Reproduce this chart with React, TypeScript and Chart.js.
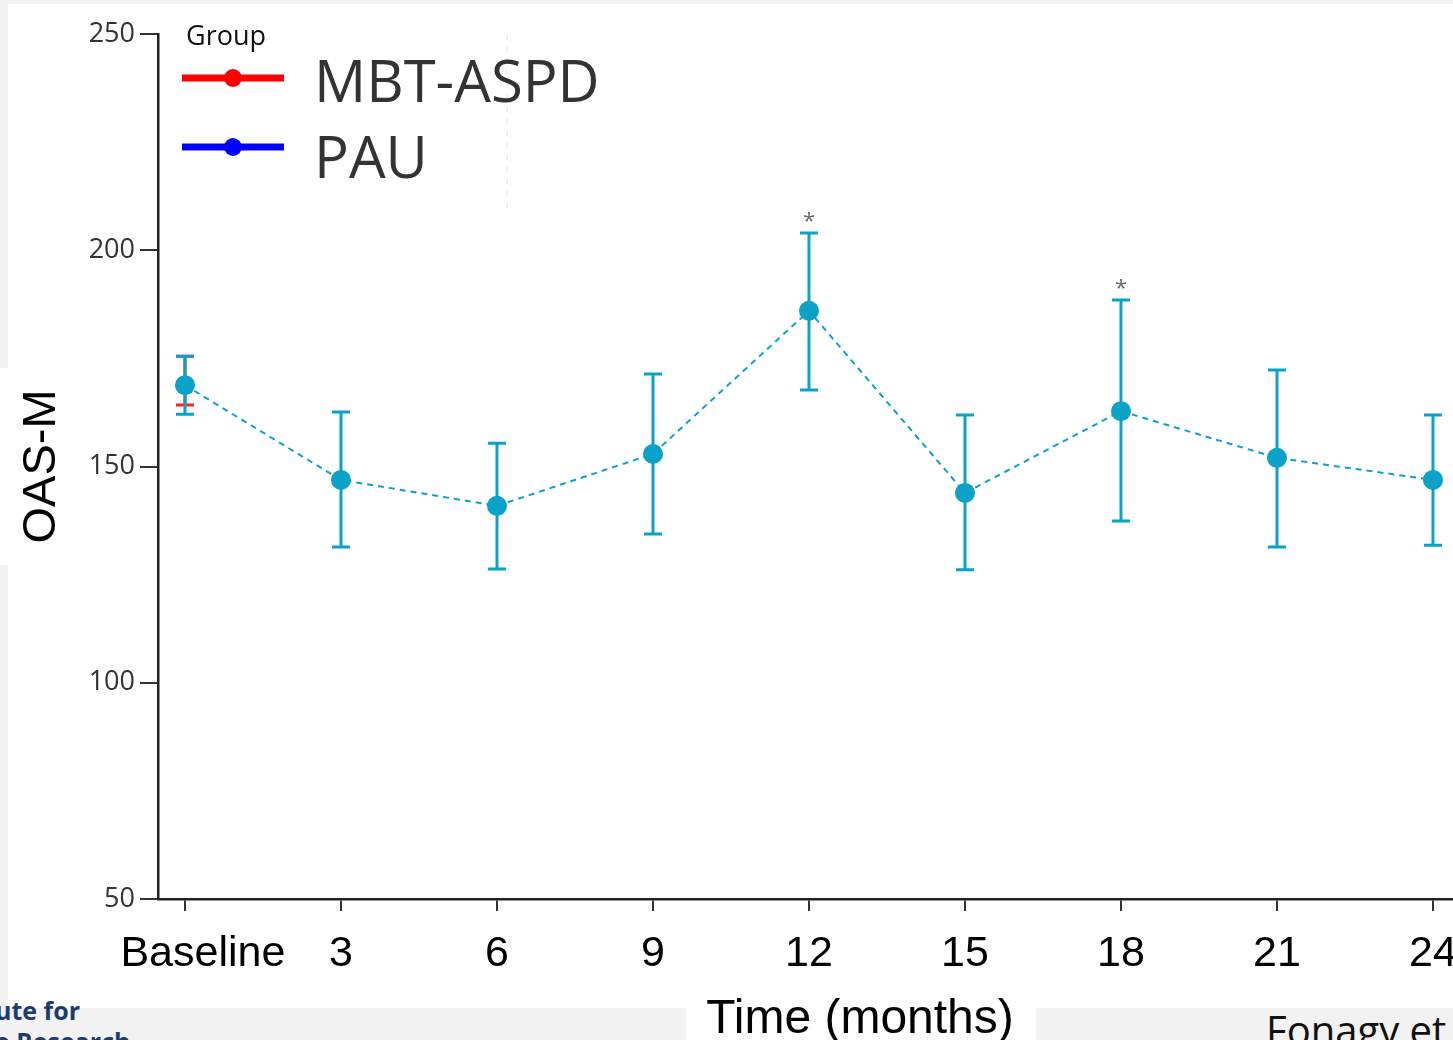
import React, { useEffect, useRef } from "react";
import { Chart, registerables } from "chart.js";

Chart.register(...registerables);

// ---- data ----
const months = [0, 3, 6, 9, 12, 15, 18, 21, 24];
const tickLabels = ["   Baseline", "3", "6", "9", "12", "15", "18", "21", "24"];
const pauMean = [168.8, 146.9, 140.9, 152.9, 186.0, 143.9, 162.8, 152.0, 146.9];
const pauUpper = [175.5, 162.6, 155.4, 171.4, 204.0, 161.9, 188.5, 172.3, 161.9];
const pauLower = [162.1, 131.4, 126.3, 134.4, 167.7, 126.1, 137.4, 131.4, 131.8];
const mbtMonths = [0];
const mbtMean = [168.8];
const mbtUpper = [175.5];
const mbtLower = [164.2];
const significant = [false, false, false, false, true, false, true, false, false];
const yTicks = [50, 100, 150, 200, 250];
const legendNames = ["MBT-ASPD", "PAU"];
const legendColors = ["#ff0000", "#0000ff"];
const xTitle = "Time (months)";

const TEAL = "#0aa2c8";
const RED = "#ff2020";

const errorBarPlugin = {
  id: "errorBars",
  beforeDatasetsDraw(chart: any) {
    const { ctx, scales } = chart;
    const xs = scales.x;
    const ys = scales.y;
    const drawBars = (mx: number[], lo: number[], hi: number[], color: string) => {
      ctx.save();
      ctx.strokeStyle = color;
      ctx.lineWidth = 3;
      mx.forEach((m, i) => {
        const px = xs.getPixelForValue(m);
        const pl = ys.getPixelForValue(lo[i]);
        const ph = ys.getPixelForValue(hi[i]);
        ctx.beginPath();
        ctx.moveTo(px, pl);
        ctx.lineTo(px, ph);
        ctx.moveTo(px - 9, pl);
        ctx.lineTo(px + 9, pl);
        ctx.moveTo(px - 9, ph);
        ctx.lineTo(px + 9, ph);
        ctx.stroke();
      });
      ctx.restore();
    };
    drawBars(mbtMonths, mbtLower, mbtUpper, RED);
    drawBars(months, pauLower, pauUpper, TEAL);
  },
  afterDatasetsDraw(chart: any) {
    const { ctx, scales } = chart;
    ctx.save();
    ctx.fillStyle = "#666";
    ctx.font = "22px 'Open Sans'";
    ctx.textAlign = "center";
    ctx.textBaseline = "alphabetic";
    months.forEach((m, i) => {
      if (!significant[i]) return;
      const px = scales.x.getPixelForValue(m);
      const ph = scales.y.getPixelForValue(pauUpper[i]);
      ctx.fillText("*", px, ph - 5);
    });
    ctx.restore();
  },
  afterDraw(chart: any) {
    const { ctx, chartArea } = chart;
    ctx.save();
    // faint dashed guide
    ctx.strokeStyle = "#e4e4e4";
    ctx.lineWidth = 1;
    ctx.setLineDash([6, 6]);
    ctx.beginPath();
    ctx.moveTo(507, 34);
    ctx.lineTo(507, 210);
    ctx.stroke();
    ctx.setLineDash([]);
    // legend
    ctx.fillStyle = "#111";
    ctx.font = "500 27px 'Open Sans'";
    ctx.textAlign = "left";
    ctx.textBaseline = "alphabetic";
    ctx.fillText("Group", 186, 45);
    const rows = [78, 147];
    const baselines = [102, 178];
    legendNames.forEach((name, i) => {
      ctx.strokeStyle = legendColors[i];
      ctx.lineWidth = 7;
      ctx.beginPath();
      ctx.moveTo(182, rows[i]);
      ctx.lineTo(284, rows[i]);
      ctx.stroke();
      ctx.fillStyle = legendColors[i];
      ctx.beginPath();
      ctx.arc(233, rows[i], 9, 0, Math.PI * 2);
      ctx.fill();
      ctx.fillStyle = "#333";
      ctx.font = "58px 'Open Sans'";
      ctx.fillText(name, 314, baselines[i]);
    });
    // x axis title (slide caption, offset right of the axis centre)
    ctx.fillStyle = "#000";
    ctx.font = "48px Arial, 'Liberation Sans'";
    ctx.textAlign = "center";
    ctx.fillText(xTitle, chartArea.left + 702, 1033);
    ctx.restore();
  },
};

export default function App() {
  const ref = useRef<HTMLCanvasElement | null>(null);

  useEffect(() => {
    if (!ref.current) return;
    const chart = new Chart(ref.current, {
      type: "line",
      data: {
        datasets: [
          {
            label: "PAU",
            data: months.map((m, i) => ({ x: m, y: pauMean[i] })),
            borderColor: TEAL,
            backgroundColor: TEAL,
            borderWidth: 2,
            borderDash: [6, 5],
            pointRadius: 10,
            pointBackgroundColor: TEAL,
            pointBorderWidth: 0,
            tension: 0,
          },
          {
            label: "MBT-ASPD",
            data: mbtMonths.map((m, i) => ({ x: m, y: mbtMean[i] })),
            borderColor: RED,
            backgroundColor: RED,
            pointRadius: 9,
            pointBorderWidth: 0,
            showLine: false,
          },
        ],
      },
      options: {
        responsive: false,
        animation: false,
        layout: { autoPadding: false, padding: { top: 34, right: 0, left: 0, bottom: 0 } },
        plugins: {
          legend: { display: false },
          tooltip: { enabled: false },
        },
        scales: {
          x: {
            type: "linear",
            min: -0.519,
            max: 24.385,
            afterBuildTicks: (scale: any) => {
              scale.ticks = months.map((v) => ({ value: v }));
            },
            afterFit: (scale: any) => {
              scale.height = 141;
              scale.paddingLeft = 0;
              scale.paddingRight = 0;
            },
            ticks: {
              autoSkip: false,
              maxRotation: 0,
              color: "#000",
              padding: 17,
              font: { family: "Arial, 'Liberation Sans'", size: 43 },
              callback: (v: any) => {
                const idx = months.indexOf(Number(v));
                return idx >= 0 ? tickLabels[idx] : "";
              },
            },
            grid: {
              drawOnChartArea: false,
              drawTicks: true,
              tickLength: 12,
              color: "#333",
              lineWidth: 2,
            },
            border: { display: true, color: "#222", width: 2.5 },
            title: { display: false },
          },
          y: {
            type: "linear",
            min: 50,
            max: 250,
            afterBuildTicks: (scale: any) => {
              scale.ticks = yTicks.map((v) => ({ value: v }));
            },
            afterFit: (scale: any) => {
              scale.width = 158;
              scale.paddingTop = 0;
              scale.paddingBottom = 0;
            },
            ticks: {
              color: "#333",
              padding: 5,
              font: { family: "'Open Sans'", size: 27 },
            },
            grid: {
              drawOnChartArea: false,
              drawTicks: true,
              tickLength: 18,
              color: "#333",
              lineWidth: 2,
            },
            border: { display: true, color: "#222", width: 2.5 },
            title: {
              display: true,
              text: "OAS-M",
              color: "#000",
              font: { family: "Arial, 'Liberation Sans'", size: 47, lineHeight: 1 },
              padding: { top: 19, bottom: 0 },
            },
          },
        },
      },
      plugins: [errorBarPlugin],
    } as any);
    return () => chart.destroy();
  }, []);

  return (
    <div
      style={{
        position: "fixed",
        left: 0,
        top: 0,
        width: 1453,
        height: 1040,
        background: "#f2f2f2",
        overflow: "hidden",
      }}
    >
      <div style={{ position: "absolute", left: 8, top: 4, right: 0, height: 1004, background: "#fff" }} />
      <div style={{ position: "absolute", left: 0, top: 368, width: 12, height: 197, background: "#fff" }} />
      <div style={{ position: "absolute", left: 686, top: 1008, width: 350, height: 32, background: "#fff" }} />
      <div
        style={{
          position: "absolute",
          left: -5,
          top: 995,
          fontFamily: "'Open Sans'",
          fontWeight: 700,
          fontSize: 25,
          lineHeight: "31px",
          color: "#1f3b6e",
          whiteSpace: "nowrap",
        }}
      >
        ute for
        <br />e Research
      </div>
      <div
        style={{
          position: "absolute",
          left: 1266,
          top: 1010,
          fontFamily: "'Open Sans'",
          fontSize: 40,
          lineHeight: "40px",
          color: "#111",
          whiteSpace: "nowrap",
        }}
      >
        Fonagy et al.
      </div>
      <canvas ref={ref} width={1453} height={1040} style={{ position: "absolute", left: 0, top: 0 }} />
    </div>
  );
}
